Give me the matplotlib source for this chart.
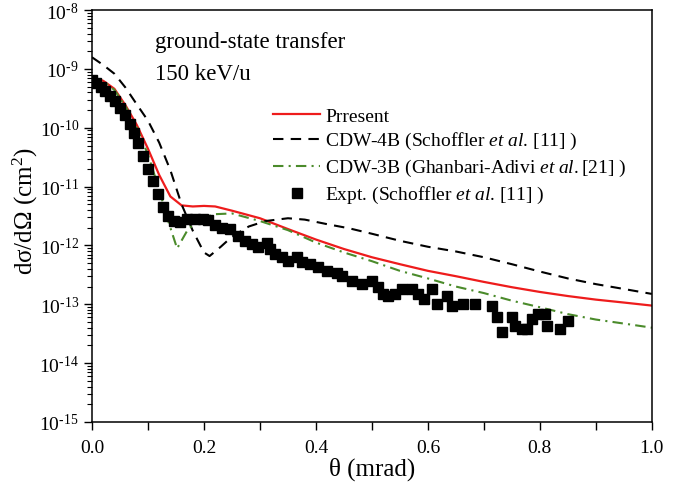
import matplotlib
matplotlib.use('Agg')
from matplotlib import pyplot as plt
from matplotlib.ticker import LogLocator, MultipleLocator, NullFormatter, FuncFormatter
import numpy as np

plt.rcParams['font.family'] = ['Liberation Serif', 'DejaVu Serif']
plt.rcParams['mathtext.fontset'] = 'custom'
plt.rcParams['mathtext.rm'] = 'Liberation Serif'
plt.rcParams['mathtext.it'] = 'Liberation Serif:italic'

# Present calculation
theta_pr = [0.00, 0.02, 0.04, 0.06, 0.08, 0.10, 0.12, 0.14, 0.16, 0.18, 0.20, 0.22,
            0.25, 0.30, 0.35, 0.40, 0.45, 0.50, 0.55, 0.60, 0.65, 0.70, 0.75, 0.80,
            0.85, 0.90, 0.95, 1.00]
sig_pr = [7.2e-10, 6.3e-10, 4.6e-10, 2.4e-10, 1.12e-10, 4.4e-11, 1.58e-11, 6.8e-12,
          4.8e-12, 4.6e-12, 4.7e-12, 4.6e-12, 3.9e-12, 2.9e-12, 1.9e-12, 1.26e-12,
          8.7e-13, 6.3e-13, 4.8e-13, 3.7e-13, 3.0e-13, 2.4e-13, 1.95e-13, 1.62e-13,
          1.38e-13, 1.2e-13, 1.07e-13, 9.5e-14]

# CDW-4B
theta_4b = [0.00, 0.02, 0.04, 0.06, 0.08, 0.10, 0.12, 0.14, 0.16, 0.18, 0.20, 0.21,
            0.23, 0.25, 0.28, 0.31, 0.35, 0.38, 0.42, 0.46, 0.50, 0.55, 0.60, 0.65,
            0.70, 0.75, 0.80, 0.85, 0.90, 0.95, 1.00]
sig_4b = [1.58e-9, 1.17e-9, 8.3e-10, 4.8e-10, 2.5e-10, 1.32e-10, 5.6e-11, 1.9e-11,
          5.0e-12, 1.78e-12, 7.6e-13, 6.6e-13, 9.5e-13, 1.41e-12, 2.1e-12, 2.6e-12,
          2.9e-12, 2.75e-12, 2.3e-12, 1.95e-12, 1.58e-12, 1.2e-12, 9.5e-13, 7.9e-13,
          6.3e-13, 4.8e-13, 3.6e-13, 2.75e-13, 2.2e-13, 1.82e-13, 1.5e-13]

# CDW-3B
theta_3b = [0.00, 0.02, 0.04, 0.06, 0.08, 0.10, 0.12, 0.135, 0.152, 0.17, 0.19, 0.22,
            0.25, 0.30, 0.35, 0.40, 0.45, 0.50, 0.55, 0.60, 0.65, 0.70, 0.75, 0.80,
            0.85, 0.90, 0.95, 1.00]
sig_3b = [7.1e-10, 6.2e-10, 4.4e-10, 2.3e-10, 1.0e-10, 3.5e-11, 8.9e-12, 2.8e-12,
          8.9e-13, 1.78e-12, 2.8e-12, 3.4e-12, 3.5e-12, 2.6e-12, 1.82e-12, 1.12e-12,
          7.6e-13, 5.4e-13, 3.7e-13, 2.75e-13, 2.0e-13, 1.55e-13, 1.15e-13, 8.9e-14,
          6.8e-14, 5.5e-14, 4.7e-14, 4.0e-14]

# Experiment
theta_ex = [0.000, 0.008, 0.016, 0.024, 0.032, 0.041, 0.050, 0.059, 0.068, 0.075,
            0.082, 0.091, 0.100, 0.109, 0.118, 0.127, 0.136, 0.146, 0.157, 0.170,
            0.184, 0.198, 0.208, 0.220, 0.232, 0.246, 0.261, 0.273, 0.286, 0.296,
            0.312, 0.318, 0.327, 0.339, 0.350, 0.366, 0.375, 0.389, 0.404, 0.420,
            0.437, 0.446, 0.464, 0.482, 0.500, 0.511, 0.520, 0.529, 0.541, 0.554,
            0.571, 0.582, 0.593, 0.607, 0.616, 0.634, 0.643, 0.662, 0.684, 0.714,
            0.723, 0.732, 0.750, 0.755, 0.768, 0.777, 0.786, 0.796, 0.809, 0.813,
            0.836, 0.850]
sig_ex = [6.5e-10, 5.8e-10, 4.9e-10, 4.2e-10, 3.5e-10, 2.8e-10, 2.2e-10, 1.62e-10,
          1.17e-10, 8.3e-11, 5.5e-11, 3.3e-11, 2.0e-11, 1.23e-11, 7.4e-12, 4.5e-12,
          3.2e-12, 2.6e-12, 2.5e-12, 2.8e-12, 2.8e-12, 2.8e-12, 2.7e-12, 2.2e-12,
          2.0e-12, 1.9e-12, 1.45e-12, 1.2e-12, 1.05e-12, 9.3e-13, 1.12e-12, 8.7e-13,
          7.1e-13, 6.3e-13, 5.5e-13, 6.3e-13, 5.2e-13, 4.8e-13, 4.3e-13, 3.7e-13,
          3.4e-13, 3.0e-13, 2.5e-13, 2.2e-13, 2.5e-13, 1.95e-13, 1.48e-13, 1.38e-13,
          1.48e-13, 1.82e-13, 1.82e-13, 1.48e-13, 1.23e-13, 1.82e-13, 1.02e-13,
          1.38e-13, 9.3e-14, 1.02e-13, 1.02e-13, 9.3e-14, 6.0e-14, 3.4e-14, 6.0e-14,
          4.3e-14, 3.8e-14, 3.8e-14, 5.6e-14, 6.9e-14, 6.9e-14, 4.3e-14, 3.8e-14,
          5.2e-14]


def pow_label(v, pos):
    n = int(round(np.log10(v)))
    return '10$^{\\text{%d}}$' % n


fig = plt.figure(figsize=(6.79, 4.85), dpi=100)
ax = fig.add_axes([0.1355, 0.128, 0.8245, 0.849])

ax.plot(theta_pr, sig_pr, color='#ee1c1c', lw=1.6, label='Prresent')
ax.plot(theta_4b, sig_4b, color='black', lw=1.5, dashes=(5, 3.5),
        label='CDW-4B (Schoffler $\\mathit{et\\ al.}\\,$[11] )')
ax.plot(theta_3b, sig_3b, color='#4b8b2b', lw=1.5, dashes=(5, 2.5, 1, 2.5),
        label='CDW-3B (Ghanbari-Adivi $\\mathit{et\\ al.}$[21] )')
ax.plot(theta_ex, sig_ex, 's', color='black', ms=6.5, ls='none',
        label='Expt. (Schoffler $\\mathit{et\\ al.}\\,$[11] )')

ax.set_yscale('log')
ax.set_xlim(0, 1.0)
ax.set_ylim(1e-15, 1e-8)
ax.xaxis.set_major_locator(MultipleLocator(0.2))
ax.xaxis.set_minor_locator(MultipleLocator(0.1))
ax.xaxis.set_major_formatter(matplotlib.ticker.FormatStrFormatter('%.1f'))
ax.yaxis.set_major_locator(LogLocator(base=10, numticks=20))
ax.yaxis.set_minor_locator(LogLocator(base=10, subs=np.arange(2, 10), numticks=20))
ax.yaxis.set_major_formatter(FuncFormatter(pow_label))
ax.yaxis.set_minor_formatter(NullFormatter())
ax.tick_params(which='major', direction='out', length=6, width=1, labelsize=14)
ax.tick_params(which='minor', direction='out', length=3.5, width=0.8)
ax.tick_params(axis='x', which='minor', length=6, width=1)
ax.tick_params(axis='x', which='major', pad=6)
for s in ax.spines.values():
    s.set_linewidth(1.1)

ax.set_xlabel('θ (mrad)', fontsize=18, labelpad=1)
ax.set_ylabel('dσ/dΩ (cm$^2$)', fontsize=18)
ax.yaxis.set_label_coords(-0.093, 0.515)

ax.text(0.112, 0.925, 'ground-state transfer', transform=ax.transAxes,
        fontsize=16.5, va='center', ha='left')
ax.text(0.112, 0.845, '150 keV/u', transform=ax.transAxes,
        fontsize=16.5, va='center', ha='left')

ax.legend(loc='upper left', bbox_to_anchor=(0.324, 0.765), frameon=False,
          fontsize=14, handlelength=2.4, handletextpad=0.25, labelspacing=0.3,
          borderaxespad=0, borderpad=0)

fig.savefig('out.png', dpi=100)
